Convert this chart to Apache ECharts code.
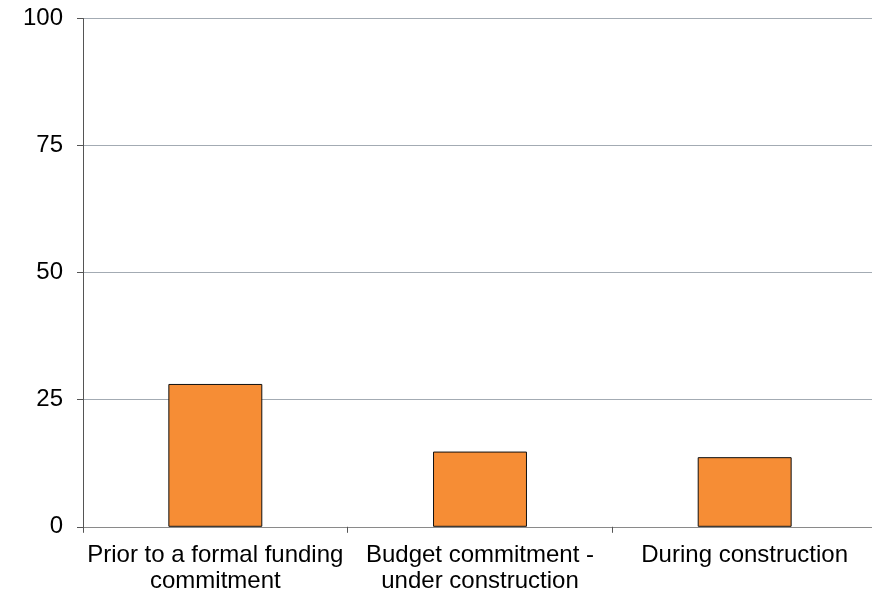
<!DOCTYPE html>
<html><head><meta charset="utf-8">
<script src="https://cdn.jsdelivr.net/npm/echarts@6/dist/echarts.min.js"></script>
<style>html,body{margin:0;padding:0;background:#fff;overflow:hidden}#c{width:880px;height:597px}</style>
</head><body><div id="c"></div>
<script>
const categories = ['Prior to a formal funding\ncommitment', 'Budget commitment -\nunder construction', 'During construction'];
const values = [28.1, 14.8, 13.7];
const yTicks = [0, 25, 50, 75, 100];

const chart = echarts.init(document.getElementById('c'));
chart.setOption({
  animation: false,
  grid: {left: 83, width: 794, top: 18.5, height: 508.3, containLabel: false},
  xAxis: {
    type: 'category', data: categories,
    axisLine: {lineStyle: {color: '#8a8a8a', width: 1}},
    axisTick: {show: true, length: 6, lineStyle: {color: '#555'}},
    axisLabel: {color: '#000', fontFamily: 'Liberation Sans, Arial, sans-serif', fontSize: 24, lineHeight: 26, margin: 16, interval: 0}
  },
  yAxis: {
    type: 'value', min: yTicks[0], max: yTicks[yTicks.length-1], interval: 25,
    axisLine: {show: true, lineStyle: {color: '#555', width: 1}},
    axisTick: {show: true, length: 6, lineStyle: {color: '#555'}},
    axisLabel: {color: '#000', fontFamily: 'Liberation Sans, Arial, sans-serif', fontSize: 24, margin: 20},
    splitLine: {lineStyle: {color: '#a3abb3', width: 1}}
  },
  series: [{
    type: 'bar', data: values, barWidth: '35.5%',
    itemStyle: {color: '#f68d35', borderColor: '#111', borderWidth: 1}
  }]
});
</script></body></html>
